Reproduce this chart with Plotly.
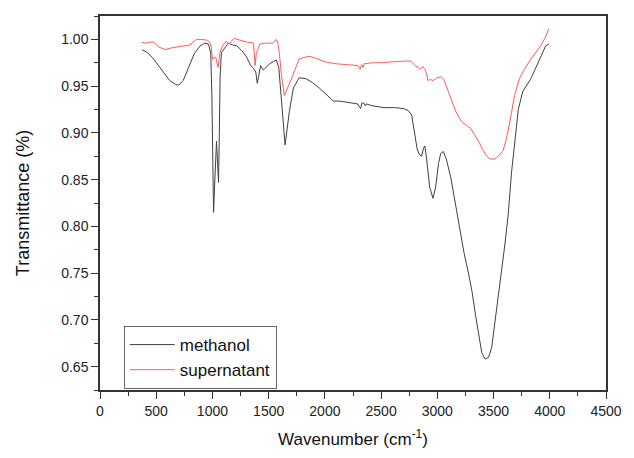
import plotly.graph_objects as go

# Methanol spectrum (wavenumber, transmittance)
methanol_x = [375, 420, 470, 520, 570, 620, 670, 700, 740, 790, 840, 890, 930, 965, 985, 995, 1003, 1010,
              1018, 1030, 1036, 1043, 1050, 1054, 1060, 1068, 1080, 1110, 1141, 1180, 1219, 1260, 1300, 1340,
              1365, 1385, 1399, 1410, 1428, 1452, 1480, 1509, 1540, 1568, 1590, 1611, 1630, 1646, 1665, 1684,
              1720, 1771, 1830, 1887, 1950, 2003, 2040, 2076, 2130, 2177, 2230, 2290, 2317, 2330, 2345, 2360,
              2369, 2420, 2526, 2620, 2700, 2740, 2772, 2801, 2820, 2839, 2860, 2878, 2889, 2903, 2920, 2932,
              2961, 2985, 3010, 3030, 3054, 3080, 3120, 3160, 3193, 3237, 3280, 3309, 3340, 3367, 3395, 3425,
              3455, 3483, 3510, 3542, 3570, 3599, 3629, 3660, 3687, 3720, 3759, 3800, 3832, 3870, 3904, 3935,
              3963, 3991]
methanol_y = [0.989, 0.986, 0.980, 0.972, 0.963, 0.956, 0.952, 0.951, 0.956, 0.970, 0.985, 0.993, 0.996, 0.995,
              0.985, 0.940, 0.870, 0.815, 0.840, 0.875, 0.891, 0.875, 0.850, 0.847, 0.890, 0.960, 0.986, 0.991,
              0.996, 0.994, 0.993, 0.988, 0.982, 0.972, 0.969, 0.965, 0.953, 0.960, 0.972, 0.967, 0.971, 0.974,
              0.976, 0.978, 0.970, 0.940, 0.905, 0.887, 0.905, 0.923, 0.948, 0.959, 0.958, 0.954, 0.948, 0.942,
              0.937, 0.934, 0.934, 0.933, 0.932, 0.931, 0.926, 0.932, 0.932, 0.929, 0.931, 0.929, 0.927, 0.927,
              0.926, 0.924, 0.919, 0.895, 0.883, 0.877, 0.875, 0.884, 0.886, 0.874, 0.852, 0.842, 0.830, 0.842,
              0.867, 0.878, 0.880, 0.872, 0.852, 0.825, 0.800, 0.772, 0.748, 0.730, 0.705, 0.684, 0.665, 0.658,
              0.660, 0.670, 0.695, 0.723, 0.752, 0.779, 0.811, 0.858, 0.888, 0.925, 0.944, 0.952, 0.958, 0.968,
              0.977, 0.984, 0.993, 0.995]

# Supernatant spectrum
super_x = [372, 400, 440, 479, 520, 581, 640, 700, 755, 800, 856, 900, 958, 985, 1001, 1015, 1030, 1042, 1051,
           1065, 1089, 1121, 1147, 1190, 1250, 1310, 1365, 1373, 1379, 1390, 1422, 1480, 1539, 1568, 1582, 1596,
           1615, 1640, 1670, 1713, 1771, 1858, 1916, 2000, 2090, 2200, 2293, 2314, 2325, 2340, 2351, 2420, 2497,
           2600, 2700, 2757, 2780, 2801, 2830, 2845, 2870, 2889, 2905, 2917, 2940, 2961, 3000, 3033, 3055, 3077,
           3120, 3164, 3200, 3222, 3260, 3295, 3330, 3367, 3400, 3440, 3470, 3512, 3550, 3585, 3610, 3629, 3660,
           3687, 3730, 3774, 3832, 3870, 3919, 3960, 3991]
super_y = [0.997, 0.996, 0.997, 0.997, 0.992, 0.989, 0.991, 0.992, 0.993, 0.994, 1.000, 1.000, 0.999, 0.995,
           0.979, 0.980, 0.981, 0.974, 0.970, 0.985, 0.993, 0.998, 0.995, 1.001, 0.999, 0.997, 0.996, 0.985,
           0.972, 0.985, 0.995, 0.996, 0.996, 1.000, 0.996, 0.984, 0.960, 0.940, 0.948, 0.961, 0.979, 0.982,
           0.980, 0.976, 0.974, 0.973, 0.972, 0.968, 0.973, 0.970, 0.974, 0.975, 0.975, 0.976, 0.977, 0.977,
           0.975, 0.972, 0.970, 0.968, 0.971, 0.968, 0.963, 0.956, 0.957, 0.956, 0.959, 0.960, 0.958, 0.951,
           0.937, 0.923, 0.915, 0.911, 0.908, 0.905, 0.898, 0.891, 0.883, 0.875, 0.872, 0.872, 0.876, 0.881,
           0.892, 0.902, 0.922, 0.940, 0.958, 0.968, 0.979, 0.985, 0.993, 1.002, 1.011]

x_ticks = [0, 500, 1000, 1500, 2000, 2500, 3000, 3500, 4000, 4500]
y_ticks = [0.65, 0.70, 0.75, 0.80, 0.85, 0.90, 0.95, 1.00]

fig = go.Figure()
fig.add_trace(go.Scatter(x=methanol_x, y=methanol_y, mode="lines", name="methanol",
                         line=dict(color="#404040", width=1)))
fig.add_trace(go.Scatter(x=super_x, y=super_y, mode="lines", name="supernatant",
                         line=dict(color="#ff5a5a", width=1)))

axis_common = dict(showgrid=False, zeroline=False, showline=True, linecolor="#333333", linewidth=1.5,
                   mirror=True, ticks="outside", ticklen=7, tickwidth=1.2, tickcolor="#333333",
                   tickfont=dict(family="Liberation Sans, Arial", size=14, color="#222222"))

fig.update_xaxes(range=[0, 4500], tickvals=x_ticks, ticktext=[str(v) for v in x_ticks],
                 minor=dict(dtick=250, tick0=0, ticks="outside", ticklen=4, tickcolor="#333333", tickwidth=1.2),
                 title=dict(text="Wavenumber (cm<sup>-1</sup>)", font=dict(family="Liberation Sans, Arial", size=17, color="#111111"), standoff=16),
                 **axis_common)
fig.update_yaxes(range=[0.625, 1.025], tickvals=y_ticks, ticktext=[f"{v:.2f}" for v in y_ticks],
                 minor=dict(dtick=0.025, tick0=0.625, ticks="outside", ticklen=4, tickcolor="#333333", tickwidth=1.2),
                 title=dict(text="Transmittance (%)", font=dict(family="Liberation Sans, Arial", size=18, color="#111111"), standoff=27),
                 **axis_common)

fig.update_layout(
    width=634, height=458,
    margin=dict(l=100, r=17, t=16, b=62),
    paper_bgcolor="white", plot_bgcolor="white",
    showlegend=True,
    legend=dict(x=0.047, y=0.171, xanchor="left", yanchor="top",
                bordercolor="#666666", borderwidth=1, bgcolor="white",
                font=dict(family="Liberation Sans, Arial", size=17, color="#111111"),
                tracegroupgap=0, itemwidth=45),
)

fig.write_html("out.html")
